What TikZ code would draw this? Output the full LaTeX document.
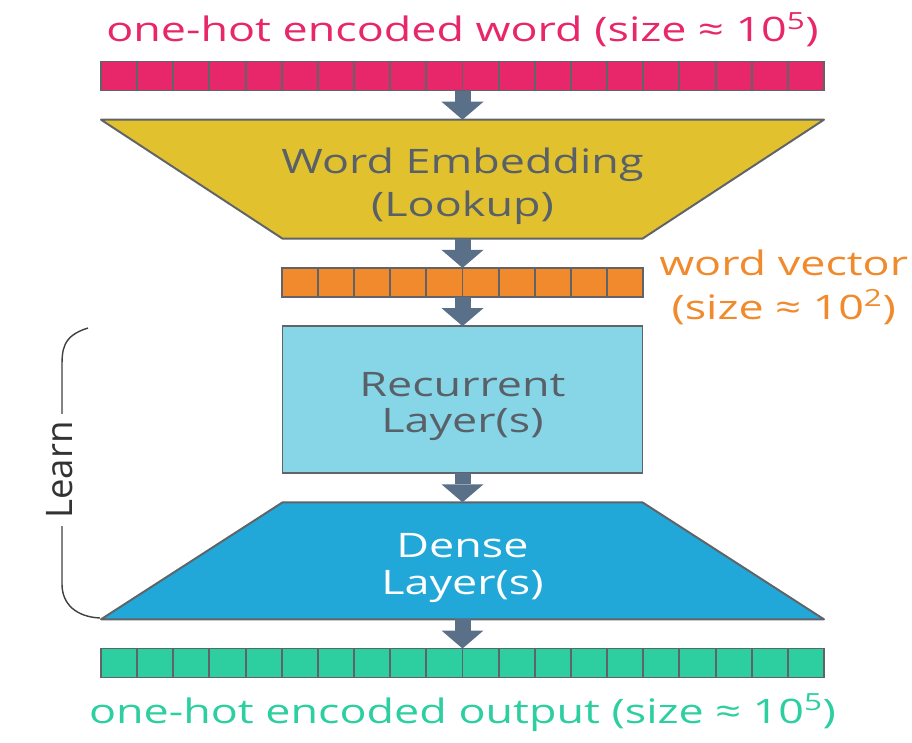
\documentclass[tikz,border=0pt]{standalone}
\usepackage{fontspec}
\setmainfont[FakeStretch=1.33]{Open Sans}
\newfontfamily\learnfont{Open Sans}
\usetikzlibrary{shapes,positioning,chains,calc,backgrounds}
\usetikzlibrary{arrows.meta}
\definecolor{hotcolor}{RGB}{232,38,106}
\definecolor{embcolor}{RGB}{226,193,46}
\definecolor{veccolor}{RGB}{240,138,44}
\definecolor{reccolor}{RGB}{134,214,232}
\definecolor{densecolor}{RGB}{33,168,216}
\definecolor{outcolor}{RGB}{45,207,160}
\definecolor{flowcolor}{RGB}{90,111,136}
\definecolor{edgecolor}{RGB}{96,100,104}
\definecolor{namecolor}{RGB}{90,96,104}

\begin{document}
\begin{tikzpicture}[%
    start chain=going below,    % layers stacked top-to-bottom
    node distance=7.3mm,        % gap between layers
    ]
\tikzset{
  base/.style={draw=edgecolor, line width=1.4pt, outer sep=0pt, on chain, align=center,
    text=namecolor, font=\fontsize{24}{31}\selectfont},
  bar/.style={base, rectangle, minimum height=7.25mm, inner sep=0pt},
  wide/.style={bar, minimum width=180.75mm},
  narrow/.style={bar, minimum width=90.25mm},
  funnel/.style={base, draw=none, rectangle, minimum width=180.75mm},
  face/.style={draw=edgecolor, line width=1.4pt, line join=round},
  cell/.style={draw=edgecolor, line width=1.4pt},
  flow/.style={flowcolor, line width=4mm, -{Triangle[width=10.5mm,length=4.5mm,line width=0pt]}},
  note/.style={inner sep=0pt, align=center, font=\fontsize{24}{31}\selectfont},
  brace/.style={draw=black!75, line width=1pt},
}
\useasboundingbox (0,0) rectangle (22.8,-18.55);

\node [wide, fill=hotcolor] (p0) at (11.5625,-1.9) {};
\node [funnel, minimum height=29.75mm] (p1) {\rule{0pt}{28pt}Word Embedding\\(Lookup)};
\node [narrow, fill=veccolor] (p2) {};
\node [base, rectangle, fill=reccolor, minimum width=90mm, minimum height=36.75mm,
  font=\fontsize{24}{26}\selectfont] (p3) {\rule{0pt}{27pt}Recurrent\\Layer(s)};
\node [funnel, minimum height=29.25mm, text=white,
  font=\fontsize{24}{26}\selectfont] (p4) {\rule{0pt}{27pt}Dense\\Layer(s)};
\node [wide, fill=outcolor] (p5) {};

% funnel shapes
\begin{scope}[on background layer]
\filldraw [face, fill=embcolor] (p1.north west) -- (p1.north east)
  -- ([xshift=-45.4mm]p1.south east) -- ([xshift=45.4mm]p1.south west) -- cycle;
\filldraw [face, fill=densecolor] (p4.south west) -- (p4.south east)
  -- ([xshift=-45.4mm]p4.north east) -- ([xshift=45.4mm]p4.north west) -- cycle;
\end{scope}

% cells
\foreach \i in {1,...,19} {
  \draw [cell] ($(p0.north west)!\i/20!(p0.north east)$) -- ($(p0.south west)!\i/20!(p0.south east)$);
  \draw [cell] ($(p5.north west)!\i/20!(p5.north east)$) -- ($(p5.south west)!\i/20!(p5.south east)$);
}
\foreach \i in {1,...,9}
  \draw [cell] ($(p2.north west)!\i/10!(p2.north east)$) -- ($(p2.south west)!\i/10!(p2.south east)$);

% labels
\node [note, text=hotcolor, above=3.5mm of p0] (l0) {one-hot encoded word (size ≈ 10\textsuperscript{5})};
\node [note, text=veccolor, right=4mm of p2, yshift=-1.3mm] (l2) {word vector\\(size ≈ 10\textsuperscript{2})};
\node [note, text=outcolor, below=4mm of p5] (l5) {one-hot encoded output (size ≈ 10\textsuperscript{5})};

% connect
\draw [flow] (p0.south) -- (p1.north);
\draw [flow] (p1.south) -- (p2.north);
\draw [flow] (p2.south) -- (p3.north);
\draw [flow] (p3.south) -- (p4.north);
\draw [flow] (p4.south) -- (p5.north);

% learn
\draw [brace] (2.2,-8.2) .. controls (1.55,-8.4) and (1.55,-8.75) .. (1.55,-9.2)
  -- (1.55,-14.6) .. controls (1.55,-15.1) and (1.9,-15.42) .. (2.5,-15.45);
\node [fill=white, rotate=90, inner xsep=5pt, inner ysep=0pt,
  font=\learnfont\fontsize{26}{30}\selectfont, text=black!80] (l3) at (1.5,-11.75) {Learn};

\end{tikzpicture}
\end{document}
